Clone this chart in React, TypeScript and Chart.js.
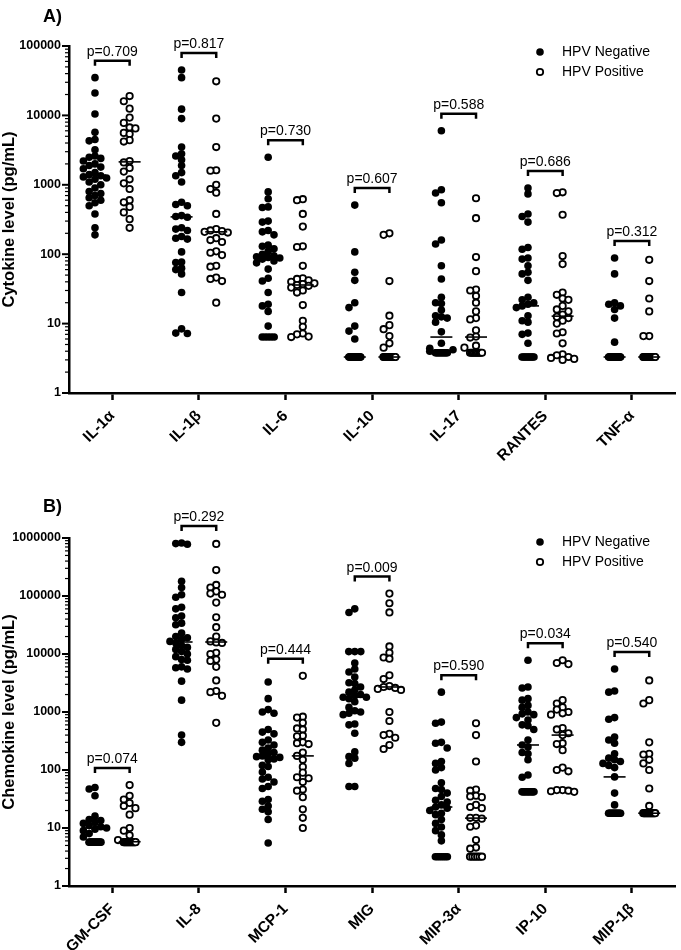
import React, { useEffect, useRef } from "react";
import { Chart, registerables } from "chart.js";
Chart.register(...registerables);

const FONT = "'Liberation Sans', Arial, Helvetica, sans-serif";

// ---------- Panel A: cytokines ----------
const cytokines = ["IL-1α", "IL-1β", "IL-6", "IL-10", "IL-17", "RANTES", "TNF-α"];
const cytokinePValues = ["0.709", "0.817", "0.730", "0.607", "0.588", "0.686", "0.312"];
const cytokineTicks = [1, 10, 100, 1000, 10000, 100000];

const il1aNeg = [35000, 21000, 10500, 5700, 4500, 4300, 3200, 2600, 2500, 2400, 2200, 2000, 1900, 1800, 1700, 1500, 1400, 1350, 1300, 1250, 1200, 1100, 1000, 900, 800, 750, 700, 650, 600, 550, 500, 380, 240, 190];
const il1aPos = [19000, 16000, 12500, 9300, 7800, 6700, 6500, 5600, 5400, 4400, 4200, 2200, 2100, 1750, 1550, 1200, 1050, 870, 600, 560, 480, 400, 320, 240];
const il1bNeg = [45000, 35000, 12300, 9000, 3500, 2800, 2600, 2300, 1900, 1500, 1350, 1100, 560, 520, 500, 360, 350, 340, 240, 230, 220, 180, 170, 165, 108, 77, 76, 63, 60, 52, 28, 8.4, 7.3, 7.2];
const il1bPos = [31000, 9000, 3500, 1620, 1600, 1000, 870, 770, 380, 230, 220, 215, 210, 205, 170, 160, 150, 110, 105, 97, 68, 66, 46, 44, 41, 20];
const il6Neg = [2500, 790, 630, 480, 470, 300, 290, 220, 210, 190, 135, 130, 120, 110, 100, 95, 92, 90, 88, 85, 80, 75, 61, 45, 41, 28, 19, 18, 15, 9.2, 6.4, 6.4, 6.4, 6.4, 6.4];
const il6Pos = [620, 600, 380, 250, 130, 127, 68, 45, 44, 42, 40, 38, 37, 36, 35, 33, 30, 28, 18.5, 11, 9, 7.2, 7, 6.5, 6.4];
const il10Neg = [510, 108, 55, 42, 20, 17, 9.2, 7.8, 6, 3.3, 3.3, 3.3, 3.3, 3.3, 3.3, 3.3, 3.3, 3.3, 3.3, 3.3, 3.3, 3.3, 3.3, 3.3, 3.3, 3.3, 3.3, 3.3, 3.3, 3.3, 3.3, 3.3, 3.3, 3.3];
const il10Pos = [200, 190, 41, 13, 9.5, 8.3, 6.6, 5.2, 4.5, 3.3, 3.3, 3.3, 3.3, 3.3, 3.3, 3.3, 3.3, 3.3, 3.3, 3.3, 3.3, 3.3, 3.3, 3.3, 3.3];
const il17Neg = [6000, 850, 760, 550, 160, 140, 68, 44, 24, 20, 19.5, 15.7, 13, 12.5, 12, 10.5, 7.6, 5.2, 4.4, 4.2, 4.0, 3.8, 3.8, 3.8, 3.8, 3.8, 3.8, 3.8, 3.8, 3.8, 3.8, 3.8, 3.8, 3.8];
const il17Pos = [640, 330, 91, 57, 31, 30, 25, 20, 15, 12, 11.5, 8, 6.5, 6.3, 4.8, 4.5, 3.8, 3.8, 3.8, 3.8, 3.8, 3.8, 3.8, 3.8, 3.8, 3.8];
const rantesNeg = [900, 740, 380, 350, 290, 125, 118, 88, 85, 68, 55, 52, 42, 24, 22, 20, 19, 18, 17, 13, 11, 10.5, 7.3, 7.0, 5.2, 3.3, 3.3, 3.3, 3.3, 3.3, 3.3, 3.3, 3.3, 3.3, 3.3];
const rantesPos = [780, 760, 370, 94, 72, 28, 26, 23, 22, 18, 16, 15, 13.5, 12.5, 12, 11, 10, 7.5, 7.2, 5.2, 3.6, 3.5, 3.3, 3.2, 3.1, 3.0];
const tnfaNeg = [88, 52, 20, 19, 18, 16, 12, 5.4, 3.3, 3.3, 3.3, 3.3, 3.3, 3.3, 3.3, 3.3, 3.3, 3.3, 3.3, 3.3, 3.3, 3.3, 3.3, 3.3, 3.3, 3.3, 3.3, 3.3, 3.3, 3.3, 3.3, 3.3, 3.3, 3.3];
const tnfaPos = [83, 41, 23, 15, 6.6, 6.6, 3.3, 3.3, 3.3, 3.3, 3.3, 3.3, 3.3, 3.3, 3.3, 3.3, 3.3, 3.3, 3.3, 3.3, 3.3, 3.3, 3.3, 3.3, 3.3];

const cytokineNeg = [il1aNeg, il1bNeg, il6Neg, il10Neg, il17Neg, rantesNeg, tnfaNeg];
const cytokinePos = [il1aPos, il1bPos, il6Pos, il10Pos, il17Pos, rantesPos, tnfaPos];
const cytokineMedianNeg = [1380, 345, 91, 3.3, 6.4, 18, 3.3];
const cytokineMedianPos = [2140, 210, 36, 3.3, 6.4, 12.8, 3.3];

// ---------- Panel B: chemokines ----------
const chemokines = ["GM-CSF", "IL-8", "MCP-1", "MIG", "MIP-3α", "IP-10", "MIP-1β"];
const chemokinePValues = ["0.074", "0.292", "0.444", "0.009", "0.590", "0.034", "0.540"];
const chemokineTicks = [1, 10, 100, 1000, 10000, 100000, 1000000];

const gmcsfNeg = [50, 47, 36, 16, 14, 13.5, 12.5, 12, 11, 10.5, 10, 9.5, 9, 8, 7, 5.7, 5.7, 5.7, 5.7, 5.7, 5.7, 5.7, 5.7, 5.7, 5.7, 5.7, 5.7];
const gmcsfPos = [55, 36, 31, 27, 24, 22, 17, 10, 9, 7.5, 6.2, 5.7, 5.7, 5.7, 5.7, 5.7, 5.7, 5.7, 5.7, 5.7, 5.7, 5.7, 5.7, 5.7, 5.7];
const il8Neg = [820000, 800000, 780000, 180000, 140000, 105000, 95000, 64000, 60000, 45000, 42000, 34000, 32000, 23000, 20000, 19000, 18000, 16500, 15500, 14000, 13000, 12000, 11000, 10000, 9000, 8000, 7800, 6000, 5800, 5500, 3400, 1600, 400, 300];
const il8Pos = [790000, 280000, 155000, 140000, 120000, 110000, 105000, 77000, 43000, 29000, 20000, 16500, 15800, 15500, 10500, 10000, 8000, 7600, 6000, 3500, 2300, 2200, 1900, 650];
const mcp1Neg = [3300, 1700, 1100, 1000, 950, 500, 450, 420, 330, 300, 270, 240, 220, 200, 190, 175, 170, 165, 155, 150, 120, 115, 92, 75, 70, 62, 52, 48, 31, 29, 24, 21, 19, 14, 5.5];
const mcp1Pos = [4200, 830, 800, 650, 520, 500, 390, 380, 300, 290, 280, 200, 175, 150, 113, 90, 75, 72, 62, 46, 44, 34, 21, 15, 10];
const migNeg = [60000, 52000, 11000, 11000, 11000, 7000, 5500, 4900, 4000, 3200, 3100, 2700, 2400, 2200, 2000, 1900, 1800, 1800, 1700, 1500, 1200, 1050, 1000, 950, 900, 620, 600, 430, 205, 170, 160, 130, 52, 52];
const migPos = [110000, 75000, 52000, 13500, 10500, 8700, 8300, 4300, 3700, 2800, 2700, 2600, 2500, 2400, 1000, 700, 420, 400, 360, 270, 230];
const mip3aNeg = [2200, 670, 640, 300, 290, 240, 140, 130, 110, 100, 60, 48, 46, 40, 35, 30, 28, 25, 23, 22, 20, 18, 17, 14, 12, 10.4, 9, 7.6, 6, 3.2, 3.2, 3.2, 3.2, 3.2, 3.2, 3.2];
const mip3aPos = [640, 400, 140, 46, 44, 36, 35, 34, 25, 23, 22, 15, 15, 14.5, 11, 10.5, 6.2, 4.6, 4.4, 3.2, 3.2, 3.2, 3.2, 3.2, 3.2];
const ip10Neg = [7800, 2700, 2600, 1700, 1600, 1300, 1200, 1000, 930, 900, 800, 730, 600, 580, 500, 330, 270, 250, 200, 190, 150, 82, 75, 42, 42, 42, 42, 42, 42, 42, 42, 42, 42];
const ip10Pos = [7800, 7000, 6700, 1600, 1400, 1200, 1100, 1000, 950, 900, 530, 500, 430, 400, 290, 280, 220, 110, 100, 95, 45, 45, 44, 43, 42];
const mip1bNeg = [5500, 2300, 2200, 800, 750, 370, 330, 290, 190, 160, 150, 140, 130, 120, 110, 76, 40, 25, 18, 18, 18, 18, 18, 18, 18, 18, 18, 18, 18, 18, 18];
const mip1bPos = [3500, 1600, 1400, 300, 190, 185, 150, 130, 100, 48, 24, 18, 18, 18, 18, 18, 18, 18, 18, 18, 18, 18, 18, 18, 18];

const chemokineNeg = [gmcsfNeg, il8Neg, mcp1Neg, migNeg, mip3aNeg, ip10Neg, mip1bNeg];
const chemokinePos = [gmcsfPos, il8Pos, mcp1Pos, migPos, mip3aPos, ip10Pos, mip1bPos];
const chemokineMedianNeg = [10, 16100, 168, 1800, 23, 270, 76];
const chemokineMedianPos = [5.8, 16100, 175, 2700, 14.8, 400, 18];

// ---------- layout helpers ----------
const GROUP = 0.2;
const STEP = 5.8;
const MIN_DIST = 5.7;
const PILE = 6;

function swarm(values: number[], toPx: (v: number) => number): number[] {
  const res = new Array(values.length).fill(0);
  const byValue = new Map<number, number[]>();
  values.forEach((v, i) => {
    const a = byValue.get(v) || [];
    a.push(i);
    byValue.set(v, a);
  });
  const placed: { x: number; y: number }[] = [];
  const inPile = new Set<number>();
  byValue.forEach((idxs, v) => {
    if (idxs.length >= 3) {
      const py = toPx(v);
      idxs.forEach((i, k) => {
        const off = -PILE + (2 * PILE * k) / (idxs.length - 1);
        res[i] = off;
        placed.push({ x: off, y: py });
        inPile.add(i);
      });
    }
  });
  const order = values.map((_, i) => i).filter((i) => !inPile.has(i)).sort((a, b) => values[b] - values[a]);
  const cands = [0, -1, 1, -2, 2];
  for (const i of order) {
    const py = toPx(values[i]);
    let best = 0;
    let bestCost = Infinity;
    for (const k of cands) {
      const px = k * STEP;
      let cost = 0;
      for (const q of placed) {
        const d = Math.hypot(q.x - px, q.y - py);
        if (d < MIN_DIST) cost += MIN_DIST - d;
      }
      if (cost === 0) {
        best = px;
        break;
      }
      const c = cost + Math.abs(k) * 0.6;
      if (c < bestCost) {
        bestCost = c;
        best = px;
      }
    }
    res[i] = best;
    placed.push({ x: best, y: py });
  }
  return res;
}

type PanelProps = {
  categories: string[];
  neg: number[][];
  pos: number[][];
  medNeg: number[];
  medPos: number[];
  pValues: string[];
  yTicks: number[];
  yTitle: string;
  label: string;
  height: number;
  padTop: number;
  xAxisHeight: number;
  legendY: number;
  labelY: number;
};

function Panel(p: PanelProps) {
  const ref = useRef<HTMLCanvasElement>(null);
  useEffect(() => {
    const canvas = ref.current;
    if (!canvas) return;
    const yMin = p.yTicks[0];
    const yMax = p.yTicks[p.yTicks.length - 1];
    const allTicks: number[] = [];
    for (let e = 0; e < p.yTicks.length - 1; e++) {
      for (let d = 1; d < 10; d++) allTicks.push(d * p.yTicks[e]);
    }
    allTicks.push(yMax);
    const isMajor = (v: number) => p.yTicks.some((t) => Math.abs(t - v) < 1e-6 * t);

    const initial = (groups: number[][], side: number) =>
      groups.flatMap((vals, i) => vals.map((v) => ({ x: i + side * GROUP, y: v })));

    const overlay = {
      id: "overlay",
      afterDraw(c: any) {
        const ctx = c.ctx as CanvasRenderingContext2D;
        const xs = c.scales.x;
        const ys = c.scales.y;
        const a = c.chartArea;
        ctx.save();
        ctx.strokeStyle = "#000";
        ctx.fillStyle = "#000";
        // y-axis tick marks (major / minor)
        allTicks.forEach((v) => {
          const py = ys.getPixelForValue(v);
          const mj = isMajor(v);
          ctx.lineWidth = mj ? 2 : 1.2;
          ctx.beginPath();
          ctx.moveTo(a.left - (mj ? 7 : 4), py);
          ctx.lineTo(a.left, py);
          ctx.stroke();
        });
        p.categories.forEach((_, i) => {
          // medians
          ctx.lineWidth = 1.6;
          const meds: [number, number][] = [
            [-1, p.medNeg[i]],
            [1, p.medPos[i]],
          ];
          meds.forEach(([side, m]) => {
            const cx = xs.getPixelForValue(i + side * GROUP);
            const py = ys.getPixelForValue(m);
            ctx.beginPath();
            ctx.moveTo(cx - 11, py);
            ctx.lineTo(cx + 11, py);
            ctx.stroke();
          });
          // bracket + p value
          const maxV = Math.max(...p.neg[i], ...p.pos[i]);
          const by = ys.getPixelForValue(maxV) - 17;
          const x1 = xs.getPixelForValue(i - GROUP);
          const x2 = xs.getPixelForValue(i + GROUP);
          ctx.lineWidth = 2.5;
          ctx.beginPath();
          ctx.moveTo(x1, by + 5);
          ctx.lineTo(x1, by);
          ctx.lineTo(x2, by);
          ctx.lineTo(x2, by + 5);
          ctx.stroke();
          ctx.font = `14px ${FONT}`;
          ctx.textAlign = "center";
          ctx.textBaseline = "alphabetic";
          ctx.fillText(`p=${p.pValues[i]}`, (x1 + x2) / 2, by - 5);
        });
        // legend
        ctx.beginPath();
        ctx.arc(540, p.legendY, 3.8, 0, Math.PI * 2);
        ctx.fill();
        ctx.beginPath();
        ctx.lineWidth = 1.8;
        ctx.arc(540, p.legendY + 20, 3.2, 0, Math.PI * 2);
        ctx.stroke();
        ctx.font = `14px ${FONT}`;
        ctx.textAlign = "left";
        ctx.textBaseline = "middle";
        ctx.fillText("HPV Negative", 562, p.legendY);
        ctx.fillText("HPV Positive", 562, p.legendY + 20);
        // panel label
        ctx.font = `bold 18px ${FONT}`;
        ctx.textBaseline = "alphabetic";
        ctx.fillText(p.label, 43, p.labelY);
        ctx.restore();
      },
    };

    const chart = new Chart(canvas, {
      type: "scatter",
      data: {
        datasets: [
          {
            label: "HPV Negative",
            data: initial(p.neg, -1),
            pointRadius: 3.8,
            pointBackgroundColor: "#000",
            backgroundColor: "#000",
            pointBorderWidth: 0,
            borderWidth: 0,
            clip: false,
          } as any,
          {
            label: "HPV Positive",
            data: initial(p.pos, 1),
            pointRadius: 3.2,
            pointBackgroundColor: "#fff",
            backgroundColor: "#fff",
            pointBorderColor: "#000",
            borderColor: "#000",
            pointBorderWidth: 1.8,
            clip: false,
          } as any,
        ],
      },
      options: {
        animation: false,
        responsive: false,
        devicePixelRatio: 1,
        events: [],
        layout: { padding: { top: p.padTop, right: 1, left: 0, bottom: 0 } },
        plugins: { legend: { display: false }, tooltip: { enabled: false } },
        scales: {
          x: {
            type: "linear",
            min: -0.5,
            max: p.categories.length - 0.5,
            afterBuildTicks: (s: any) => {
              s.ticks = p.categories.map((_, i) => ({ value: i }));
            },
            afterFit: (s: any) => {
              s.height = p.xAxisHeight;
            },
            ticks: {
              autoSkip: false,
              minRotation: 45,
              maxRotation: 45,
              padding: 7,
              color: "#000",
              font: { family: FONT, size: 15.5, weight: "bold" },
              callback: (v: any) => p.categories[Math.round(Number(v))] ?? "",
            },
            grid: {
              display: true,
              drawOnChartArea: false,
              drawTicks: true,
              tickLength: 7,
              tickWidth: 2.5,
              tickColor: "#000",
              color: "#000",
            },
            border: { display: true, color: "#000", width: 2.5 },
          },
          y: {
            type: "logarithmic",
            min: yMin,
            max: yMax,
            afterBuildTicks: (s: any) => {
              s.ticks = allTicks.map((v) => ({ value: v }));
            },
            afterFit: (s: any) => {
              s.width = 69;
            },
            ticks: {
              autoSkip: false,
              padding: 8,
              color: "#000",
              font: { family: FONT, size: 12.5, weight: "bold" },
              callback: (v: any) => (isMajor(Number(v)) ? String(Math.round(Number(v))) : ""),
            },
            grid: { display: false, drawTicks: false },
            border: { display: true, color: "#000", width: 2.5 },
            title: {
              display: true,
              text: p.yTitle,
              color: "#000",
              font: { family: FONT, size: 16.5, weight: "bold" },
              padding: 0,
            },
          },
        },
      } as any,
      plugins: [overlay],
    });

    // arrange each group as a swarm using the library's own scales
    const xs: any = chart.scales.x;
    const ys: any = chart.scales.y;
    const ppu = xs.getPixelForValue(1) - xs.getPixelForValue(0);
    const toPx = (v: number) => ys.getPixelForValue(v);
    const place = (groups: number[][], side: number) =>
      groups.flatMap((vals, i) => {
        const offs = swarm(vals, toPx);
        return vals.map((v, k) => ({ x: i + side * GROUP + offs[k] / ppu, y: v }));
      });
    chart.data.datasets[0].data = place(p.neg, -1) as any;
    chart.data.datasets[1].data = place(p.pos, 1) as any;
    chart.update("none");

    return () => chart.destroy();
  }, []);
  return <canvas ref={ref} width={681} height={p.height} style={{ display: "block", width: 681, height: p.height }} />;
}

export default function App() {
  return (
    <div style={{ position: "absolute", left: 0, top: 0, width: 681, height: 950, background: "#fff" }}>
      <Panel
        categories={cytokines}
        neg={cytokineNeg}
        pos={cytokinePos}
        medNeg={cytokineMedianNeg}
        medPos={cytokineMedianPos}
        pValues={cytokinePValues}
        yTicks={cytokineTicks}
        yTitle="Cytokine level (pg/mL)"
        label="A)"
        height={470}
        padTop={46}
        xAxisHeight={77}
        legendY={52}
        labelY={22}
      />
      <Panel
        categories={chemokines}
        neg={chemokineNeg}
        pos={chemokinePos}
        medNeg={chemokineMedianNeg}
        medPos={chemokineMedianPos}
        pValues={chemokinePValues}
        yTicks={chemokineTicks}
        yTitle="Chemokine level (pg/mL)"
        label="B)"
        height={480}
        padTop={68}
        xAxisHeight={64}
        legendY={72}
        labelY={42}
      />
    </div>
  );
}
